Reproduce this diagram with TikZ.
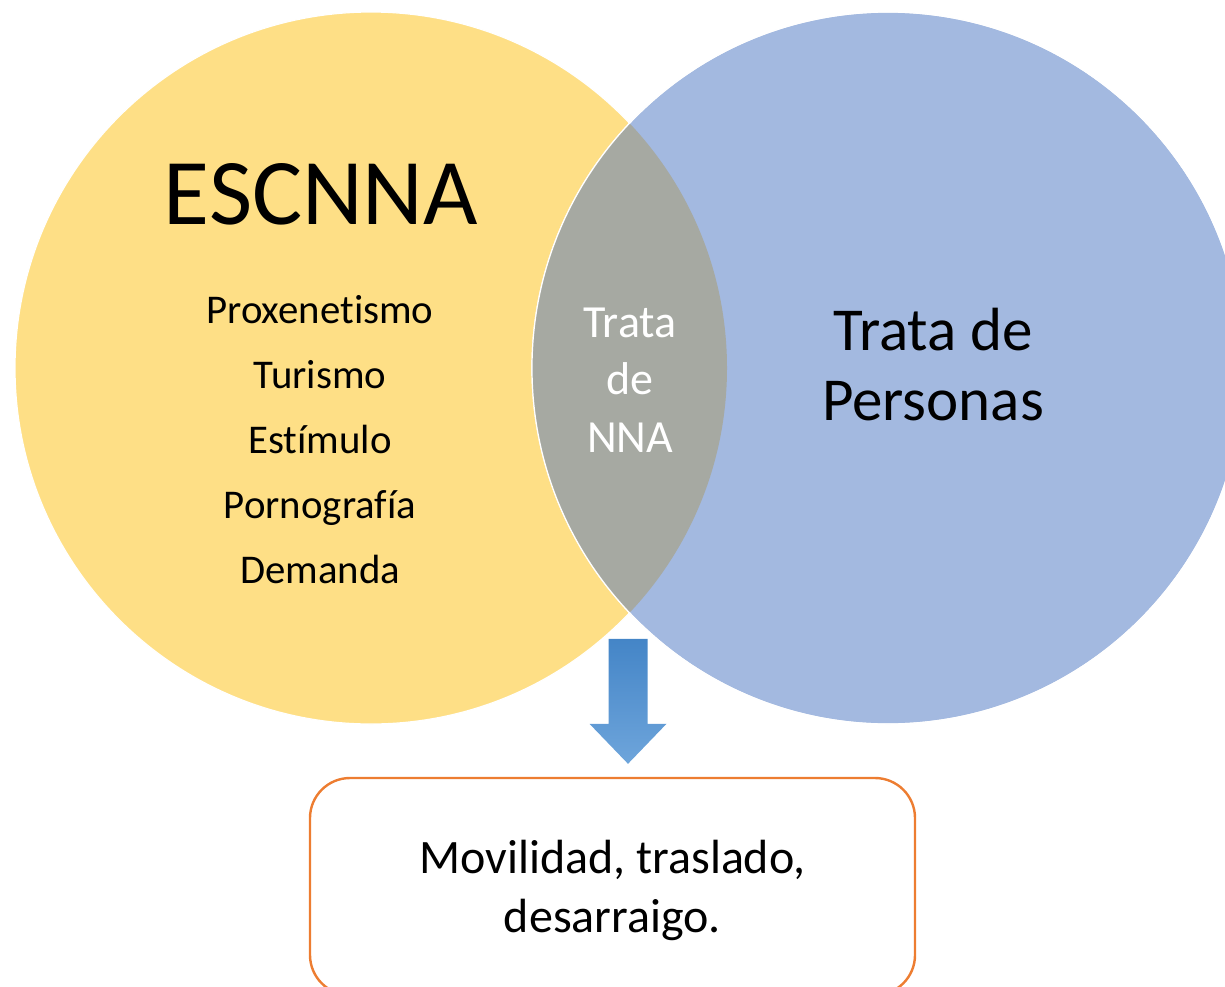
\documentclass[tikz,border=0pt]{standalone}
\usepackage{fontspec}
\setmainfont{Carlito}[Ligatures=NoCommon]
\usetikzlibrary{positioning, calc}

\definecolor{escyellow}{HTML}{FEDF86}
\definecolor{trablue}{HTML}{A3B9E0}
\definecolor{nnagray}{HTML}{A6A9A2}
\definecolor{boxorange}{HTML}{ED7D31}
\definecolor{arrowtop}{HTML}{4485C7}
\definecolor{arrowbot}{HTML}{6EA5DB}

\begin{document}
\begin{tikzpicture}[x=0.5pt, y=-0.5pt,
  setcircle/.style={circle, minimum size=356pt, inner sep=0pt, draw=white, line width=0.6pt},
  settext/.style={align=center, inner sep=0pt, text=black}]
\path[use as bounding box] (0,0) rectangle (1225,986);
\clip (0,0) rectangle (1225,986);

% the two sets
\node[setcircle, fill=escyellow] (esc) at (371,368) {};
\node[setcircle, fill=trablue] (trata) at (888,368) {};

% overlap of both sets
\begin{scope}
\clip (esc.center) circle (356);
\fill[nnagray] (trata.center) circle (356);
\end{scope}
\draw[white, line width=0.6pt] (trata.center) circle (356);

% texts
\node[settext, font=\fontsize{47}{56}\selectfont] (esctitle) at (321,194) {ESCNNA};
\node[settext, font=\fontsize{20.4}{32.5}\selectfont] (esclist) at (320,440) {Proxenetismo\\Turismo\\Estímulo\\Pornografía\\Demanda};
\node[settext, text=white, font=\fontsize{23}{28.75}\selectfont] (nna) at (630,380) {Trata\\de\\NNA};
\node[settext, font=\fontsize{30.5}{35}\selectfont] (personas) at (933,365) {Trata de\\Personas};

% result box
\node[draw=boxorange, line width=1.2pt, rounded corners=20pt, fill=white, minimum width=302.5pt, minimum height=108.5pt] (move) at (612.5,886.5) {};
\node[settext, font=\fontsize{24}{29.5}\selectfont] (movetext) at (612.5,890) {Movilidad, traslado,\\desarraigo.};

% block arrow down to the box
\coordinate (arrtip) at ($(move.north)+(15.5,-13)$);
\shade[top color=arrowtop, bottom color=arrowbot]
  ($(arrtip)+(-19.5,-125)$) -- ($(arrtip)+(19.5,-125)$) -- ($(arrtip)+(19.5,-40)$) -- ($(arrtip)+(38.5,-40)$) -- (arrtip) -- ($(arrtip)+(-38.5,-40)$) -- ($(arrtip)+(-19.5,-40)$) -- cycle;
\end{tikzpicture}
\end{document}
